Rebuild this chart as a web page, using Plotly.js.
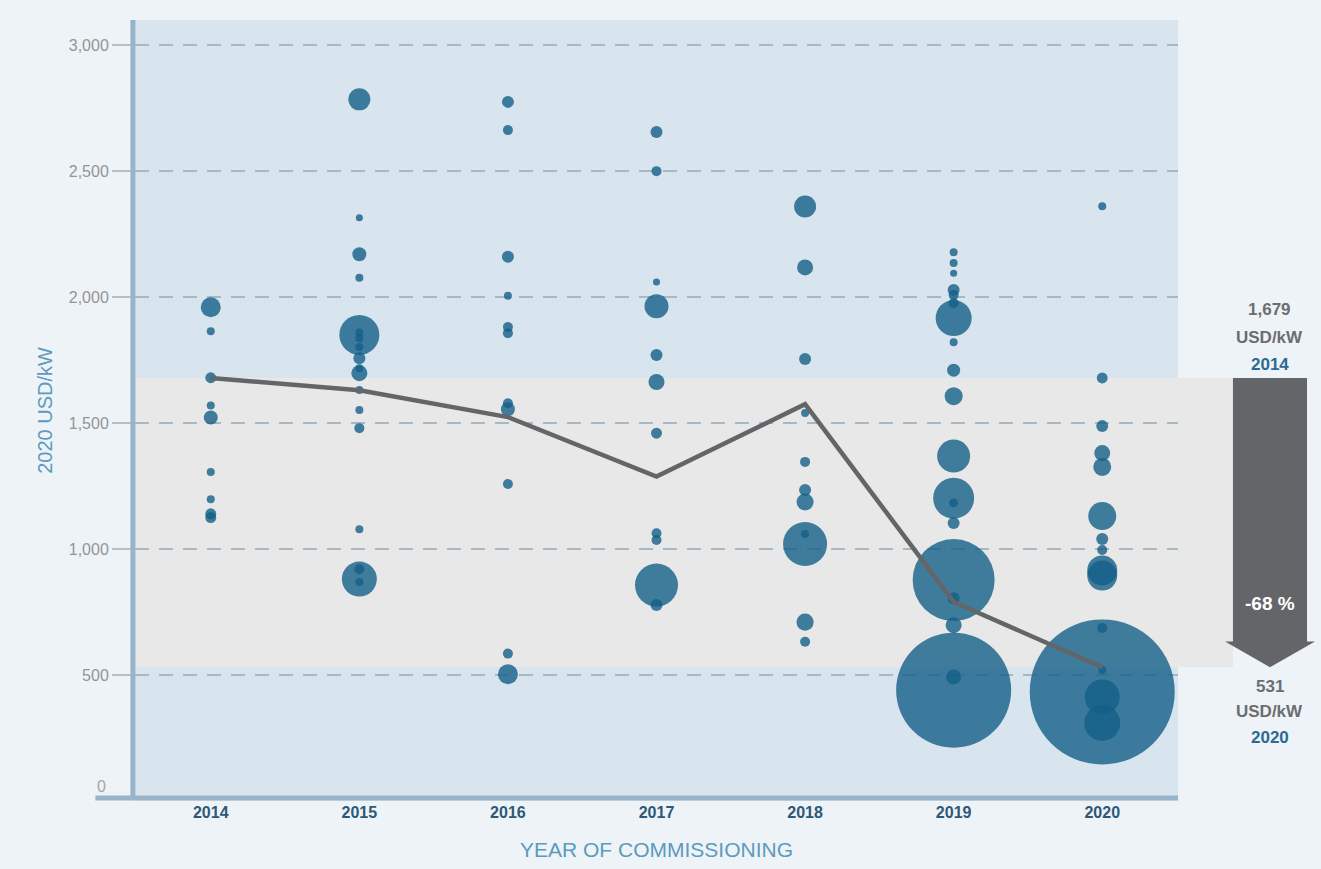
<!DOCTYPE html>
<html>
<head>
<meta charset="utf-8">
<script src="https://cdn.plot.ly/plotly-3.0.1.min.js"></script>
<style>
  html, body { margin: 0; padding: 0; background: #eef3f7; }
  #chart { width: 1321px; height: 869px; }
</style>
</head>
<body>
<div id="chart"></div>
<script>
// ---- Data ----
const years = [2014, 2015, 2016, 2017, 2018, 2019, 2020];

// Installed cost per project (2020 USD/kW) and project capacity (MW, bubble size)
const cost2014 = [1960, 1865, 1680, 1570, 1522, 1306, 1198, 1140, 1125];
const cap2014  = [200, 32, 60, 32, 98, 32, 32, 60, 60];

const cost2015 = [2785, 2315, 2170, 2077, 1850, 1860, 1837, 1802, 1757, 1718, 1698, 1631, 1552, 1480, 1079, 881, 920, 869];
const cap2015  = [242, 25, 98, 32, 800, 32, 32, 32, 72, 32, 128, 32, 32, 50, 32, 612, 50, 32];

const cost2016 = [2775, 2663, 2160, 2005, 1881, 1857, 1579, 1555, 1258, 585, 503];
const cap2016  = [72, 50, 72, 32, 50, 50, 50, 98, 50, 50, 200];

const cost2017 = [2655, 2500, 2060, 1964, 1770, 1663, 1460, 1063, 1036, 857, 778];
const cap2017  = [72, 50, 25, 288, 72, 128, 60, 50, 50, 925, 72];

const cost2018 = [2360, 2118, 1754, 1540, 1346, 1234, 1187, 1060, 1020, 710, 632];
const cap2018  = [242, 128, 72, 32, 50, 72, 145, 32, 968, 145, 50];

const cost2019 = [2178, 2135, 2095, 2028, 2008, 1976, 1917, 1821, 1710, 1607, 1369, 1202, 1183, 1103, 877, 805, 698, 440, 492];
const cap2019  = [32, 32, 25, 72, 50, 50, 648, 32, 85, 162, 545, 840, 40, 72, 3362, 72, 128, 6612, 112];

const cost2020 = [2361, 1679, 1488, 1381, 1326, 1131, 1040, 996, 915, 895, 687, 520, 433, 413, 310];
const cap2020  = [32, 60, 72, 128, 162, 392, 72, 50, 450, 450, 50, 32, 10512, 612, 648];

// Capacity-weighted average installed cost per year
const weightedAvg = [1679, 1630, 1524, 1288, 1575, 790, 531];

const yTickVals = [500, 1000, 1500, 2000, 2500, 3000];
const yTickText = ["500", "1,000", "1,500", "2,000", "2,500", "3,000"];

// ---- Build traces ----
const costs = [cost2014, cost2015, cost2016, cost2017, cost2018, cost2019, cost2020];
const caps  = [cap2014, cap2015, cap2016, cap2017, cap2018, cap2019, cap2020];

const bx = [], by = [], bs = [];
costs.forEach((arr, i) => {
  arr.forEach((v, j) => { bx.push(years[i]); by.push(v); bs.push(caps[i][j]); });
});

const bubbles = {
  type: 'scatter', mode: 'markers',
  x: bx, y: by,
  marker: {
    size: bs, sizemode: 'area', sizeref: 1.0, sizemin: 0,
    color: 'rgb(20,95,135)', opacity: 0.8, line: { width: 0 }
  },
  hoverinfo: 'x+y', showlegend: false
};

const avgLine = {
  type: 'scatter', mode: 'lines',
  x: years, y: weightedAvg,
  line: { color: '#636569', width: 4.5 },
  hoverinfo: 'x+y', showlegend: false
};

// ---- Annotation geometry ----
const first = weightedAvg[0];
const last = weightedAvg[weightedAvg.length - 1];
const pct = Math.round((last / first - 1) * 100);
const fmt = v => v.toLocaleString('en-US');

const arrowL = 1.0527, arrowR = 1.1237, headL = 1.0451, headR = 1.1314, tipX = 1.0882;
const headBase = last + 102;

const grey = '#6b6d70';
const blue = '#2b6a93';
const FONT = 'Liberation Sans, Arial, sans-serif';
const noteFont = (c) => ({ family: FONT, size: 17, color: c });

function note(text, yPaper, color) {
  return { xref: 'paper', yref: 'paper', x: tipX, y: yPaper, text: '<b>' + text + '</b>',
           showarrow: false, xanchor: 'center', yanchor: 'middle', font: noteFont(color) };
}

const layout = {
  width: 1321, height: 869,
  paper_bgcolor: '#eef3f7',
  plot_bgcolor: '#d8e5ee',
  margin: { l: 135, r: 143, t: 20, b: 68 },
  showlegend: false,
  xaxis: {
    type: 'linear', range: [2013.49, 2020.51],
    tickvals: years, ticktext: years.map(String),
    showgrid: false, zeroline: false, showline: false, ticks: '',
    tickfont: { family: FONT, size: 16, color: '#2d5876', weight: 'bold' },
    title: { text: 'YEAR OF COMMISSIONING', standoff: 22,
             font: { family: FONT, size: 21, color: '#5b9bbc' } }
  },
  yaxis: {
    range: [0, 3100],
    tickvals: yTickVals, ticktext: yTickText,
    showgrid: true, gridcolor: '#a7b8c5', gridwidth: 1.5, griddash: '14px,10px',
    zeroline: false, showline: false,
    ticks: 'outside', ticklen: 22, tickwidth: 1.5, tickcolor: '#b3c1cb',
    tickfont: { family: FONT, size: 16, color: '#959595' },
    title: { text: '2020 USD/kW', standoff: 10,
             font: { family: FONT, size: 20, color: '#5b9bbc' } }
  },
  shapes: [
    // grey band between 2014 and 2020 weighted averages
    { type: 'rect', layer: 'below', xref: 'paper', yref: 'y',
      x0: 0, x1: arrowL, y0: last, y1: first,
      fillcolor: '#e8e8e8', line: { width: 0 } },
    // left axis line
    { type: 'line', xref: 'paper', yref: 'paper', x0: -0.002, x1: -0.002, y0: 0.004, y1: 1,
      line: { color: '#98b4c8', width: 5 } },
    // bottom axis line
    { type: 'line', xref: 'paper', yref: 'paper', x0: -0.038, x1: 1, y0: 0.004, y1: 0.004,
      line: { color: '#98b4c8', width: 5 } },
    // decline arrow
    { type: 'path', xref: 'paper', yref: 'y',
      path: `M ${arrowL} ${first} L ${arrowR} ${first} L ${arrowR} ${headBase} L ${headR} ${headBase} ` +
            `L ${tipX} ${last} L ${headL} ${headBase} L ${arrowL} ${headBase} Z`,
      fillcolor: '#636569', line: { width: 0 } }
  ],
  annotations: [
    // zero label sits just above the bottom axis line
    { xref: 'paper', yref: 'paper', x: -0.026, y: 0.018, text: '0', showarrow: false,
      xanchor: 'right', yanchor: 'middle', font: { family: FONT, size: 16, color: '#a5a5a5' } },
    note(fmt(first), 0.6287, grey),
    note('USD/kW', 0.5941, grey),
    note(String(years[0]), 0.5595, blue),
    note(fmt(last), 0.1460, grey),
    note('USD/kW', 0.1140, grey),
    note(String(years[years.length - 1]), 0.0807, blue),
    { xref: 'paper', yref: 'paper', x: tipX, y: 0.2535, text: '<b>' + pct + ' %</b>',
      showarrow: false, xanchor: 'center', yanchor: 'middle',
      font: { family: FONT, size: 19, color: '#ffffff' } }
  ]
};

Plotly.newPlot('chart', [bubbles, avgLine], layout, { staticPlot: true, displayModeBar: false });
</script>
</body>
</html>
